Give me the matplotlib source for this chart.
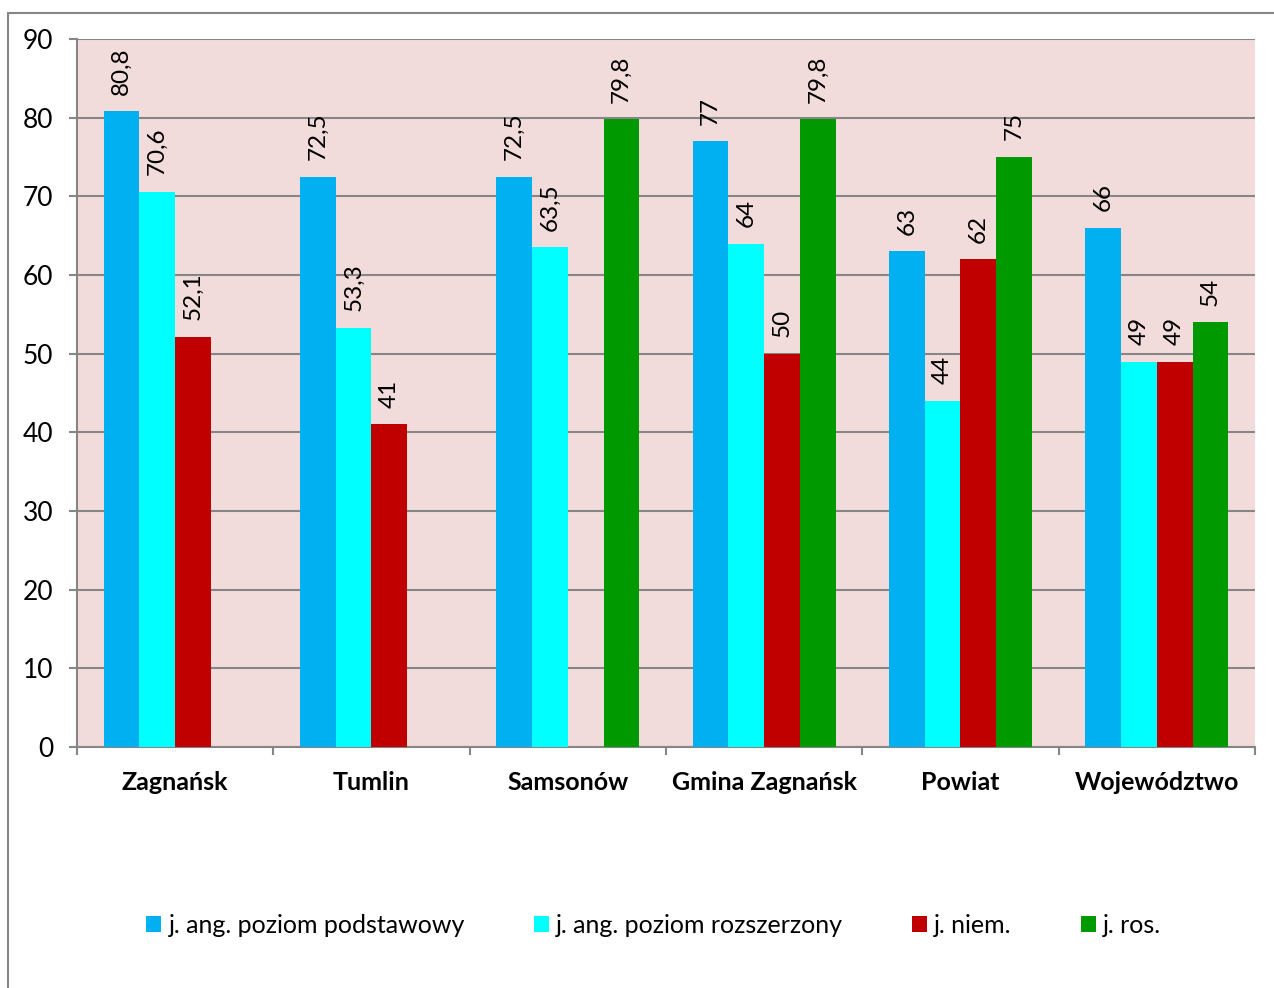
import numpy as np
import matplotlib.pyplot as plt
from matplotlib.patches import Rectangle

plt.rcParams['font.family'] = ['Lato', 'DejaVu Sans']

categories = ['Zagnańsk', 'Tumlin', 'Samsonów', 'Gmina Zagnańsk', 'Powiat', 'Województwo']
series_names = ['j. ang. poziom podstawowy', 'j. ang. poziom rozszerzony', 'j. niem.', 'j. ros.']
ang_podst = [80.8, 72.5, 72.5, 77, 63, 66]
ang_rozsz = [70.6, 53.3, 63.5, 64, 44, 49]
niem = [52.1, 41, np.nan, 50, 62, 49]
ros = [np.nan, np.nan, 79.8, 79.8, 75, 54]
colors = ['#00B0F0', '#00FFFF', '#C00000', '#009900']


def fmt(v):
    s = ('%.1f' % v).rstrip('0').rstrip('.')
    return s.replace('.', ',')


fig = plt.figure(figsize=(12.74, 9.88), dpi=100)
ax = fig.add_axes([77 / 1274, 1 - 747 / 988, (1255 - 77) / 1274, (747 - 39) / 988])
ax.set_facecolor('#F2DCDB')

x = np.arange(len(categories))
w = 1 / 5.5
data = [ang_podst, ang_rozsz, niem, ros]
for i, (vals, c, name) in enumerate(zip(data, colors, series_names)):
    pos = x + (i - 1.5) * w
    ax.bar(pos, vals, width=w, color=c, label=name, zorder=3)
    for p, v in zip(pos, vals):
        if np.isnan(v):
            continue
        ax.annotate(fmt(v), (p, v), xytext=(0, 12), textcoords='offset points',
                    rotation=90, ha='center', va='bottom', fontsize=17.5, zorder=4)

ax.set_ylim(0, 90)
ax.set_xlim(-0.5, len(categories) - 0.5)
ax.set_yticks(np.arange(0, 91, 10))
ax.yaxis.grid(True, color='#868686', linewidth=1.5, zorder=0)
ax.set_axisbelow(True)

ax.set_xticks(np.arange(-0.5, len(categories), 1))
ax.set_xticklabels([])
ax.set_xticks(x, minor=True)
ax.set_xticklabels(categories, minor=True, fontweight='bold', fontsize=18)
ax.tick_params(axis='x', which='major', length=6, color='#868686', width=1.5)
ax.tick_params(axis='x', which='minor', length=0, pad=17)
ax.tick_params(axis='y', length=6, color='#868686', width=1.5, labelsize=19, pad=11)

for s in ['left', 'bottom']:
    ax.spines[s].set_color('#868686')
    ax.spines[s].set_linewidth(1.5)
ax.spines['right'].set_visible(False)
ax.spines['top'].set_visible(False)

leg = fig.legend(loc='center', bbox_to_anchor=(0.513, 1 - 925 / 988), ncol=4, frameon=False,
                 fontsize=18, handlelength=0.6, handleheight=0.6, handletextpad=0.3,
                 columnspacing=2.75)

fig.patches.append(Rectangle((8 / 1274, -0.1), 1.2, 1.1 - 13.5 / 988,
                             transform=fig.transFigure, fill=False,
                             edgecolor='#868686', linewidth=1.5, clip_on=False))

fig.savefig('out.png', dpi=100)
